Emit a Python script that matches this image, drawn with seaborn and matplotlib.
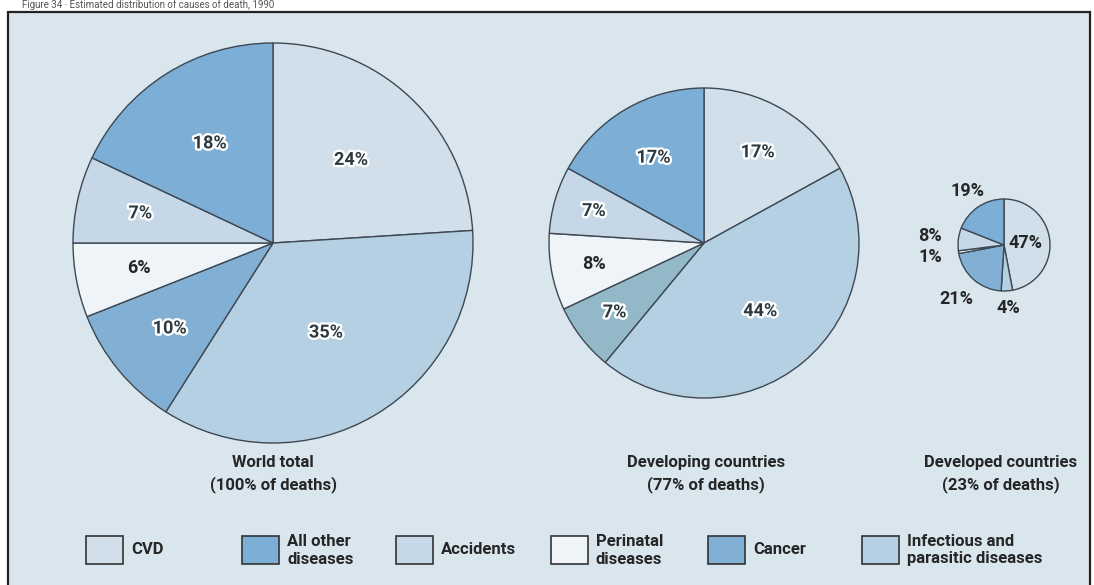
import numpy as np
import matplotlib
matplotlib.use("Agg")
import matplotlib.pyplot as plt
import matplotlib.patheffects as pe
from matplotlib.patches import Rectangle
import seaborn as sns

# ---- data -------------------------------------------------------------
# slices run clockwise from 12 o'clock in this order
causes = ["CVD", "Infectious and\nparasitic diseases", "Cancer",
          "Perinatal\ndiseases", "Accidents", "All other\ndiseases"]
world_pct = [24, 35, 10, 6, 7, 18]
developing_pct = [17, 44, 7, 8, 7, 17]
developed_pct = [47, 4, 21, 1, 8, 19]

pie_titles = ["World total\n(100% of deaths)",
              "Developing countries\n(77% of deaths)",
              "Developed countries\n(23% of deaths)"]

legend_order = ["CVD", "All other\ndiseases", "Accidents",
                "Perinatal\ndiseases", "Cancer",
                "Infectious and\nparasitic diseases"]

caption = "Figure 34 \u00b7 Estimated distribution of causes of death, 1990"

# ---- styling ----------------------------------------------------------
sns.set_theme(style="white")
FONT = ["Roboto", "DejaVu Sans"]
plt.rcParams["font.family"] = FONT

cause_colors = {
    "CVD": "#d0dfea",
    "Infectious and\nparasitic diseases": "#b5cfe3",
    "Cancer": "#82b0d5",
    "Perinatal\ndiseases": "#eef4f7",
    "Accidents": "#c6d8e7",
    "All other\ndiseases": "#7caed6",
}
developing_cancer_color = "#93b9c9"
panel_color = "#dae6ee"
edge_color = "#3e4852"
text_dark = "#2c3a40"

W, H = 1094, 585
fig = plt.figure(figsize=(W / 100, H / 100), dpi=100)
fig.patch.set_facecolor("white")
ax = fig.add_axes([0, 0, 1, 1])

# framed panel
ax.add_patch(Rectangle((8, -5), 1082, H - 12 + 5, facecolor=panel_color,
                       edgecolor="#222222", linewidth=1.6, zorder=0))

halo = [pe.withStroke(linewidth=3.4, foreground="white")]

# (values, centre x, centre y [px from top], radius, label distances, label style)
pies = [
    (world_pct, 273, 243, 200, [0.57, 0.52, 0.67, 0.68, 0.68, 0.59], "inner"),
    (developing_pct, 704, 243, 155, [0.68, 0.57, 0.73, 0.72, 0.74, 0.64], "inner"),
    (developed_pct, 1004, 245, 46, [0.48, 1.37, 1.57, 1.62, 1.62, 1.43], "outer"),
]
title_x = [273, 706, 1001]

for k, (vals, cx, cy, r, dists, style) in enumerate(pies):
    cols = [cause_colors[c] for c in causes]
    if k == 1:
        cols[causes.index("Cancer")] = developing_cancer_color
    wedges, _ = ax.pie(vals, colors=cols, startangle=90, counterclock=False,
                       center=(cx, H - cy), radius=r, frame=True,
                       wedgeprops=dict(edgecolor=edge_color, linewidth=1.0))
    for w, v, d, c in zip(wedges, vals, dists, causes):
        mid = np.deg2rad((w.theta1 + w.theta2) / 2)
        x = cx + d * r * np.cos(mid)
        y = H - cy + d * r * np.sin(mid)
        if style == "inner" and c != "Perinatal\ndiseases":
            ax.text(x, y, f"{v}%", ha="center", va="center", fontsize=13,
                    fontweight="bold", color=text_dark, path_effects=halo,
                    zorder=5)
        else:
            ax.text(x, y, f"{v}%", ha="center", va="center", fontsize=13,
                    fontweight="bold", color="#262626", zorder=5)
    ax.text(title_x[k], H - 474, pie_titles[k], ha="center", va="center",
            fontsize=12, fontweight="bold", color="#262626", linespacing=1.4)

# legend row
box_left = [86, 242, 396, 551, 708, 862]
for bx, name in zip(box_left, legend_order):
    col = cause_colors[name]
    ax.add_patch(Rectangle((bx, H - 564), 37, 28, facecolor=col,
                           edgecolor="#333333", linewidth=1.2, zorder=3))
    ax.text(bx + 45, H - 550, name, ha="left", va="center", fontsize=12,
            fontweight="bold", color="#262626", linespacing=1.25)

# caption strip above the panel
ax.text(22, H - 10.5, caption, ha="left", va="bottom", fontsize=7,
        color="#555555")

ax.set_xlim(0, W)
ax.set_ylim(0, H)
ax.set_aspect("equal")
ax.set_axis_off()

fig.savefig("out.png", dpi=100, facecolor="white")
